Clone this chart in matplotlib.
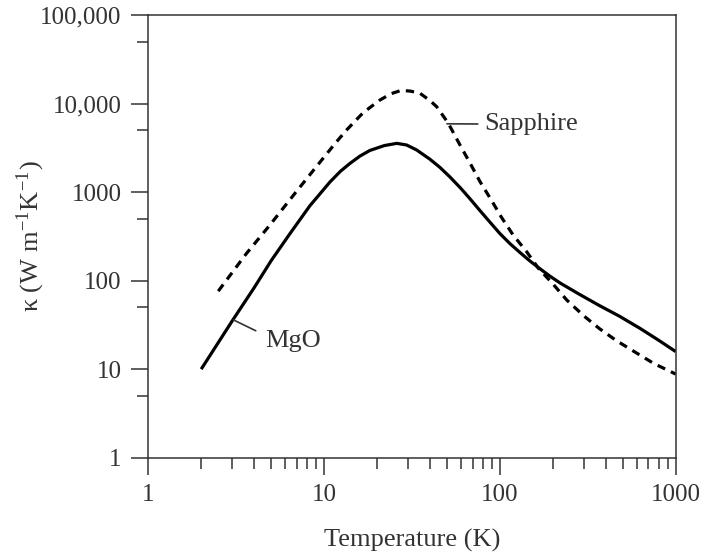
import matplotlib
matplotlib.use("Agg")
import matplotlib.pyplot as plt
from matplotlib.ticker import LogLocator, NullFormatter

# -------------------------------------------------
# data (log-log)
# -------------------------------------------------
mgo_T = [2.0, 3.0, 4.0, 5.0, 6.4, 8.3, 10.8, 12.4, 14.0, 16.0, 18.2, 22.0,
         25.9, 29.5, 33.6, 40.0, 45.6, 52.0, 60.0, 67.6, 78.0, 88.0, 100.0,
         114.0, 130.0, 148.0, 170.0, 193.0, 220.0, 280.0, 370.0, 480.0, 630.0,
         800.0, 1000.0]
mgo_k = [10.0, 35.0, 83.0, 168.0, 340.0, 700.0, 1300.0, 1720.0, 2100.0, 2550.0,
         2950.0, 3350.0, 3550.0, 3400.0, 2990.0, 2350.0, 1900.0, 1480.0, 1100.0,
         840.0, 600.0, 455.0, 340.0, 262.0, 208.0, 167.0, 135.0, 112.0, 94.0,
         71.0, 52.0, 39.5, 28.7, 21.2, 15.8]

sap_T = [2.5, 3.6, 4.92, 6.83, 9.69, 11.5, 13.4, 16.7, 20.8, 24.0, 27.5, 31.0,
         35.1, 40.0, 43.7, 50.9, 59.3, 67.6, 77.1, 89.8, 102.0, 119.0, 142.0,
         165.0, 200.0, 240.0, 300.0, 370.0, 460.0, 590.0, 750.0, 1000.0]
sap_k = [76.0, 200.0, 425.0, 969.0, 2300.0, 3500.0, 5000.0, 7900.0, 10960.0,
         12900.0, 14100.0, 13800.0, 13060.0, 10800.0, 9210.0, 5980.0, 3400.0,
         2130.0, 1310.0, 800.0, 520.0, 327.0, 212.0, 139.0, 92.0, 60.4, 40.0,
         28.5, 21.0, 15.5, 11.6, 8.8]

y_ticks = [1, 10, 100, 1000, 10000, 100000]
y_labels = ["1", "10", "100", "1000", "10,000", "100,000"]
x_ticks = [1, 10, 100, 1000]
x_labels = ["1", "10", "100", "1000"]

# -------------------------------------------------
# style
# -------------------------------------------------
txt = "#333333"
plt.rcParams["font.family"] = ["Liberation Serif", "DejaVu Serif"]
plt.rcParams["mathtext.fontset"] = "stix"

fig = plt.figure(figsize=(7.17, 5.55), dpi=100)
ax = fig.add_axes([0.2068, 0.1753, 0.7356, 0.7977])

ax.plot(mgo_T, mgo_k, color="black", lw=2.3, solid_capstyle="butt",
        solid_joinstyle="round")
ax.plot(sap_T, sap_k, color="black", lw=2.3, linestyle=(0, (2.6, 2.0)))

ax.set_xscale("log")
ax.set_yscale("log")
ax.set_xlim(1, 1000)
ax.set_ylim(1, 100000)

ax.set_xticks(x_ticks, x_labels)
ax.set_yticks(y_ticks, y_labels)
ax.xaxis.set_minor_locator(LogLocator(base=10, subs=range(2, 10)))
ax.yaxis.set_minor_locator(LogLocator(base=10, subs=[5]))
ax.xaxis.set_minor_formatter(NullFormatter())
ax.yaxis.set_minor_formatter(NullFormatter())

ax.tick_params(which="major", direction="out", length=12.2, width=1.1,
               color=txt, labelsize=18, labelcolor=txt, pad=7)
ax.tick_params(which="minor", direction="out", length=8, width=1.1, color=txt)
for s in ax.spines.values():
    s.set_linewidth(1.1)
    s.set_color(txt)

ax.set_xlabel("Temperature (K)", fontsize=19, color=txt, labelpad=16)
ax.set_ylabel(r"κ (W m$^{\mathregular{-1}}$K$^{\mathregular{-1}}$)",
              fontsize=19, color=txt, labelpad=-5)

# curve labels with leader lines
ax.annotate("Sapphire", xy=(50, 5900), xytext=(82, 5870), ha="left", va="center",
            fontsize=19, color=txt,
            arrowprops=dict(arrowstyle="-", color=txt, lw=1.2,
                            relpos=(0, 0.5), shrinkA=3, shrinkB=0))
ax.annotate("MgO", xy=(3.05, 36), xytext=(4.6, 21), ha="left", va="center",
            fontsize=19, color=txt,
            arrowprops=dict(arrowstyle="-", color=txt, lw=1.2,
                            relpos=(0, 0.75), shrinkA=5, shrinkB=0))

fig.savefig("out.png", dpi=100)
